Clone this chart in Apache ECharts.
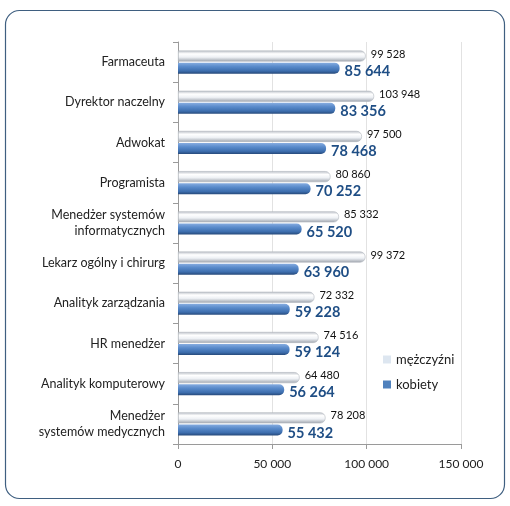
<!DOCTYPE html>
<html>
<head>
<meta charset="utf-8">
<script src="https://cdn.jsdelivr.net/npm/echarts@6/dist/echarts.min.js"></script>
<style>
  html, body { margin: 0; padding: 0; background: #fff; }
  #main { width: 510px; height: 506px; }
</style>
</head>
<body>
<div id="main"></div>
<script>
const categories = [
  "Farmaceuta",
  "Dyrektor naczelny",
  "Adwokat",
  "Programista",
  "Menedżer systemów\ninformatycznych",
  "Lekarz ogólny i chirurg",
  "Analityk zarządzania",
  "HR menedżer",
  "Analityk komputerowy",
  "Menedżer\nsystemów medycznych",
];
const men = [99528, 103948, 97500, 80860, 85332, 99372, 72332, 74516, 64480, 78208];
const women = [85644, 83356, 78468, 70252, 65520, 63960, 59228, 59124, 56264, 55432];
const xTicks = [0, 50000, 100000, 150000];

const fontFamily = "Lato, 'Open Sans', sans-serif";
// 12345 -> "12 345"
function fmt(v) {
  return String(v).replace(/\B(?=(\d{3})+(?!\d))/g, " ");
}

const chartDom = document.getElementById("main");
const myChart = echarts.init(chartDom);

const option = {
  animation: false,
  textStyle: { fontFamily: fontFamily },
  graphic: [
    {
      type: "rect",
      shape: { x: 5.5, y: 10.5, width: 499, height: 488, r: 14 },
      style: { fill: "none", stroke: "#3f5f80", lineWidth: 1.2 },
      silent: true,
    },
  ],
  legend: {
    orient: "vertical",
    left: 378,
    top: 348,
    itemWidth: 8,
    itemHeight: 8,
    itemGap: 12,
    icon: "rect",
    textStyle: { fontSize: 13, color: "#222", fontFamily: fontFamily },
    data: [
      { name: "mężczyźni", itemStyle: { color: "#dde6f0", borderWidth: 0 } },
      { name: "kobiety", itemStyle: { color: "#4f81bd", borderWidth: 0 } },
    ],
  },
  grid: { left: 178, right: 49, top: 42, bottom: 62 },
  xAxis: {
    type: "value",
    min: 0,
    max: 150000,
    interval: 50000,
    axisLine: { show: true, lineStyle: { color: "#9a9a9a" } },
    axisTick: { show: true, length: 5, lineStyle: { color: "#9a9a9a" } },
    axisLabel: {
      margin: 14,
      fontSize: 12,
      color: "#222",
      formatter: (v) => (xTicks.indexOf(v) >= 0 ? fmt(v) : ""),
    },
    splitLine: { show: true, lineStyle: { color: "#e2e2e2" } },
  },
  yAxis: {
    type: "category",
    inverse: true,
    data: categories,
    axisLine: { show: true, lineStyle: { color: "#9a9a9a" } },
    axisTick: { show: true, length: 5, lineStyle: { color: "#9a9a9a" } },
    axisLabel: {
      margin: 13,
      fontSize: 12.5,
      color: "#222",
      lineHeight: 16,
      align: "right",
    },
  },
  series: [
    {
      name: "mężczyźni",
      type: "bar",
      data: men,
      barWidth: 11,
      barGap: "10%",
      itemStyle: {
        borderRadius: [0, 5, 5, 0],
        borderColor: "#b4b9c0",
        borderWidth: 0.6,
        color: new echarts.graphic.LinearGradient(0, 0, 0, 1, [
          { offset: 0, color: "#b9bec6" },
          { offset: 0.3, color: "#ffffff" },
          { offset: 0.6, color: "#eef1f5" },
          { offset: 1, color: "#9ea4ad" },
        ]),
      },
      label: {
        show: true,
        position: "right",
        distance: 5,
        offset: [0, -2],
        fontSize: 11,
        color: "#111",
        formatter: (p) => fmt(p.value),
      },
    },
    {
      name: "kobiety",
      type: "bar",
      data: women,
      barWidth: 11,
      itemStyle: {
        borderRadius: [0, 5, 5, 0],
        color: new echarts.graphic.LinearGradient(0, 0, 0, 1, [
          { offset: 0, color: "#86ace0" },
          { offset: 0.35, color: "#5a8bcb" },
          { offset: 0.75, color: "#3d6eae" },
          { offset: 1, color: "#26497a" },
        ]),
      },
      label: {
        show: true,
        position: "right",
        distance: 5,
        offset: [0, 3],
        fontSize: 14.5,
        fontWeight: "bold",
        color: "#1f4e85",
        formatter: (p) => fmt(p.value),
      },
    },
  ],
};

myChart.setOption(option);
</script>
</body>
</html>
